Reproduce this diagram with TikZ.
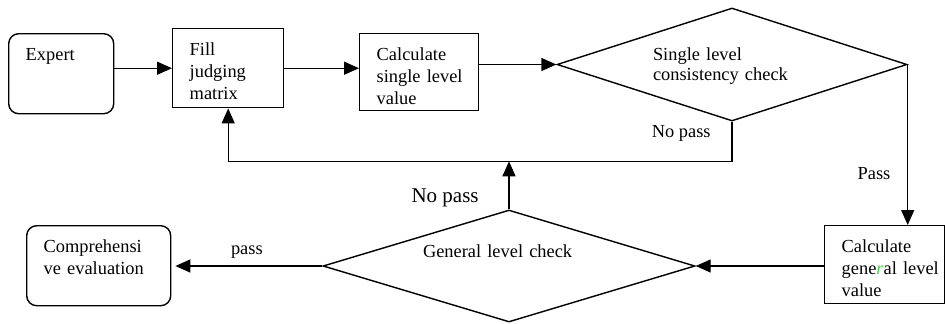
\documentclass[tikz,border=0pt]{standalone}
\usepackage{fontspec}
\setmainfont{Liberation Serif}
\usetikzlibrary{arrows.meta,shapes.geometric}

\begin{document}
\begin{tikzpicture}[x=0.5pt,y=-0.5pt,line width=0.7pt,>={Triangle[length=7.5pt,width=6.5pt]},
	every node/.style={font=\fontsize{9.2}{11}\selectfont},
	box/.style 2 args={draw,rectangle,anchor=north west,align=left,inner xsep=8.5pt,inner ysep=6.5pt,text height=7pt,text width=#1,text depth=#2},
	round box/.style 2 args={box={#1}{#2},rounded corners=5pt},
	check/.style 2 args={draw,diamond,shape aspect=3.3,align=left,inner sep=0pt,font=\fontsize{9.2}{10}\selectfont,minimum width=#1,minimum height=#2,text height=7pt}]

	\useasboundingbox (0,0) rectangle (945,323);

	\node[round box={35.5pt}{20pt}] (expert) at (8,33) {Expert};
	\node[box={38.5pt}{19.5pt}] (fill) at (172,28) {Fill\\judging\\matrix};
	\node[box={42.5pt}{18.5pt}] (calc) at (359,33) {Calculate\\single~level\\value};
	\node[check={175pt}{56.5pt},text width=79pt,text depth=11.5pt] (sc) at (732,64.5) {Single~level\\consistency~check};
	\node[box={43pt}{19pt}] (gv) at (824,225) {Calculate\\gene{\color[rgb]{0.3,0.8,0.3}\itshape r}al~level\\value};
	\node[check={186pt}{56pt},text width=86pt,text depth=16pt] (gc) at (509,266) {General~level~check};
	\node[round box={55pt}{20pt}] (comp) at (26,225) {Comprehensi\\ve~evaluation};

	\path (gc.north) ++(0,-48) coordinate (join);

	\draw[->] (expert.east |- fill.west) -- (fill.west);
	\draw[->] (fill.east) -- (fill.east -| calc.west);
	\draw[->] (calc.east |- sc.west) -- (sc.west);
	\draw[->] (sc.east) -- (sc.east |- gv.north) node[pos=.68,left=5pt] {Pass};
	\draw[->] (sc.south) |- node[pos=.145,left=7pt] {No pass} (join) -| (fill.south);
	\draw[->] (gc.north) -- (join) node[pos=.23,left=11.5pt,font=\fontsize{10.5}{12}\selectfont] {No pass};
	\draw[->] (gc.east -| gv.west) -- (gc.east);
	\draw[->,shorten >=2pt] (gc.west) -- (comp.east |- gc.west) node[midway,above] {pass};
\end{tikzpicture}
\end{document}
